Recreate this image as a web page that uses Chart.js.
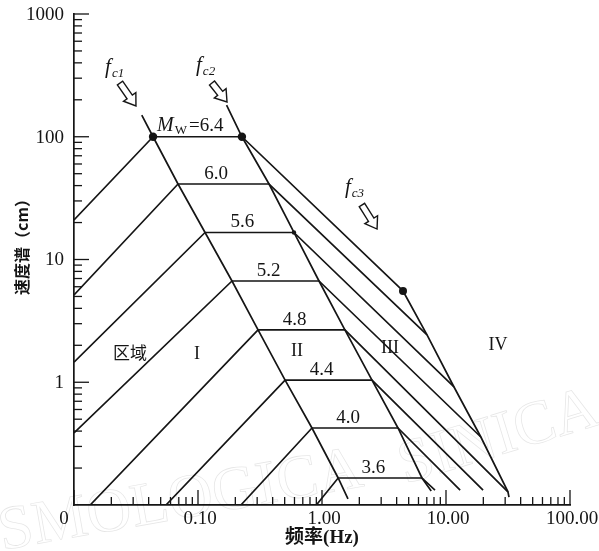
<!DOCTYPE html>
<html>
<head>
<meta charset="utf-8">
<script src="https://cdn.jsdelivr.net/npm/chart.js@4.4.1/dist/chart.umd.min.js"></script>
<style>
  html, body { margin: 0; padding: 0; background: #fff; }
  canvas { display: block; }
</style>
</head>
<body>
<canvas id="chart" width="599" height="551"></canvas>
<script>
// Velocity spectra by moment magnitude: rising branch, flat plateau between
// the first two corner frequencies, then the decaying branch.
const magnitudes = ['6.4', '6.0', '5.6', '5.2', '4.8', '4.4', '4.0', '3.6'];
const plateauVel = [100, 41.2, 16.6, 6.68, 2.67, 1.04, 0.424, 0.166];   // cm
const cornerF1   = [0.0434, 0.069, 0.114, 0.188, 0.305, 0.504, 0.83, 1.35]; // Hz
const cornerF2   = [0.226, 0.374, 0.594, 0.946, 1.53, 2.53, 4.10, 6.40];    // Hz
const startF     = [0.01, 0.01, 0.01, 0.01, 0.0135, 0.0552, 0.222, 0.9];
const startVel   = [21.0, 5.14, 1.46, 0.386, 0.1, 0.1, 0.1, 0.1];
const endF       = [4.50, 7.03, 11.6, 19.1, 31.6, 19.9, 13.0, 8.15];
const endVel     = [5.54, 2.43, 0.915, 0.358, 0.128, 0.132, 0.132, 0.132];

// outer ends of the corner-frequency boundaries
const fc1Ends = [{ x: 0.0352, y: 150 }, { x: 1.62, y: 0.112 }];
const fc2Ends = [{ x: 0.170, y: 181 }, { x: 7.6, y: 0.13 }];
const fc3End  = { x: 32.2, y: 0.116 };

// axis ticks
const xTicks = [0.01, 0.1, 1, 10, 100];
const xTickLabels = ['0', '0.10', '1.00', '10.00', '100.00'];
const yTicks = [1000, 100, 10, 1];
const yTickLabels = ['1000', '100', '10', '1'];

const ink = '#151515';
const serif = '"Liberation Serif", "DejaVu Serif", serif';
const cjk = '"Noto Sans CJK SC", sans-serif';

// text and arrow anchors, in data units
const cornerNotes = [
  { sub: 'c1', text: { f: 0.0178, v: 331 }, tail: { f: 0.0235, v: 274 }, tip: { f: 0.0316, v: 178 } },
  { sub: 'c2', text: { f: 0.0964, v: 343 }, tail: { f: 0.1297, v: 274 }, tip: { f: 0.1714, v: 192 } },
  { sub: 'c3', text: { f: 1.53,   v: 34.8 }, tail: { f: 2.10,  v: 27.8 }, tip: { f: 2.78,  v: 17.7 } }
];
const regionNotes = [
  { text: '区域', f: 0.0283, v: 1.73, font: '17px ' + cjk },
  { text: 'I',   f: 0.098,  v: 1.70, font: '18px ' + serif },
  { text: 'II',  f: 0.628,  v: 1.80, font: '18px ' + serif },
  { text: 'III', f: 3.53,   v: 1.90, font: '18px ' + serif },
  { text: 'IV',  f: 26.3,   v: 2.01, font: '18px ' + serif }
];

const lineBase = { showLine: true, borderColor: ink, borderWidth: 1.7, pointRadius: 0, tension: 0, fill: false };
const datasets = magnitudes.map((m, i) => ({
  ...lineBase,
  label: 'Mw ' + m,
  data: [
    { x: startF[i], y: startVel[i] },
    { x: cornerF1[i], y: plateauVel[i] },
    { x: cornerF2[i], y: plateauVel[i] },
    { x: endF[i], y: endVel[i] }
  ]
}));
datasets.push({ ...lineBase, label: 'fc1',
  data: [fc1Ends[0], ...cornerF1.map((f, i) => ({ x: f, y: plateauVel[i] })), fc1Ends[1]] });
datasets.push({ ...lineBase, label: 'fc2',
  data: [fc2Ends[0], ...cornerF2.map((f, i) => ({ x: f, y: plateauVel[i] })), fc2Ends[1]] });
datasets.push({ ...lineBase, label: 'fc3',
  data: [...endF.slice(0, 5).map((f, i) => ({ x: f, y: endVel[i] })), fc3End] });
datasets.push({
  label: 'corners', showLine: false,
  data: [
    { x: cornerF1[0], y: plateauVel[0] },
    { x: cornerF2[0], y: plateauVel[0] },
    { x: endF[0], y: endVel[0] },
    { x: cornerF2[2], y: plateauVel[2] }
  ],
  pointRadius: [4.2, 4.2, 4, 2.2],
  pointBackgroundColor: ink, pointBorderWidth: 0
});

function hollowArrow(ctx, x0, y0, x1, y1) {
  const dx = x1 - x0, dy = y1 - y0, L = Math.hypot(dx, dy);
  const ux = dx / L, uy = dy / L, nx = -uy, ny = ux;
  const sw = 3.2, hw = 7.5, hl = 11;
  const pts = [[0, -sw], [L - hl, -sw], [L - hl, -hw], [L, 0], [L - hl, hw], [L - hl, sw], [0, sw]];
  ctx.save();
  ctx.beginPath();
  pts.forEach(([s, t], i) => {
    const X = x0 + ux * s + nx * t, Y = y0 + uy * s + ny * t;
    i ? ctx.lineTo(X, Y) : ctx.moveTo(X, Y);
  });
  ctx.closePath();
  ctx.fillStyle = '#fff';
  ctx.fill();
  ctx.lineWidth = 1.4;
  ctx.strokeStyle = ink;
  ctx.stroke();
  ctx.restore();
}

// faint journal stamp behind the curves
const stampPlugin = {
  id: 'stamp',
  beforeDatasetsDraw(chart) {
    const ctx = chart.ctx;
    ctx.save();
    ctx.font = '62px ' + serif;
    ctx.strokeStyle = 'rgba(0,0,0,0.10)';
    ctx.lineWidth = 0.8;
    ctx.translate(2, 550); ctx.rotate(-10 * Math.PI / 180);
    ctx.strokeText('SMOLOGICA', 0, 0);
    ctx.setTransform(1, 0, 0, 1, 0, 0);
    ctx.translate(405, 484); ctx.rotate(-17 * Math.PI / 180);
    ctx.strokeText('SINICA', 0, 0);
    ctx.restore();
  }
};

// inward tick marks, tick labels, axis titles and annotations
const marksPlugin = {
  id: 'marks',
  afterDraw(chart) {
    const { ctx, chartArea: a, scales: { x, y } } = chart;
    const px = v => x.getPixelForValue(v), py = v => y.getPixelForValue(v);
    ctx.save();
    ctx.strokeStyle = ink;
    ctx.lineWidth = 1.3;
    const seg = (x0, y0, x1, y1) => { ctx.beginPath(); ctx.moveTo(x0, y0); ctx.lineTo(x1, y1); ctx.stroke(); };

    for (let e = -2; e < 2; e++) for (let k = 2; k <= 9; k++) {
      const X = px(k * Math.pow(10, e)); seg(X, a.bottom, X, a.bottom - 8);
    }
    x.ticks.forEach(t => { const X = px(t.value); seg(X, a.bottom, X, a.bottom - 15); });
    for (let e = -1; e < 3; e++) for (let k = 2; k <= 9; k++) {
      const Y = py(k * Math.pow(10, e)); seg(a.left, Y, a.left + 8, Y);
    }
    y.ticks.forEach(t => { const Y = py(t.value); seg(a.left, Y, a.left + 15, Y); });

    ctx.fillStyle = ink;
    ctx.font = '19px ' + serif;
    ctx.textBaseline = 'middle';
    ctx.textAlign = 'center';
    x.ticks.forEach((t, i) => {
      const X = px(t.value) + (i === 0 ? -10 : 2);
      ctx.fillText(xTickLabels[i], X, a.bottom + 14);
    });
    ctx.textAlign = 'right';
    y.ticks.forEach((t, i) => ctx.fillText(yTickLabels[i], a.left - 10, py(t.value) + 1));

    // axis titles
    ctx.font = 'bold 19px ' + serif + ', ' + cjk;
    ctx.textAlign = 'center';
    ctx.fillText('频率(Hz)', (a.left + a.right) / 2, a.bottom + 33);
    ctx.save();
    ctx.translate(22, a.top + 229);
    ctx.rotate(-Math.PI / 2);
    ctx.font = 'bold 16px ' + cjk;
    ctx.fillText('速度谱（cm）', 0, 0);
    ctx.restore();

    // magnitude labels on the plateaus
    ctx.textBaseline = 'alphabetic';
    magnitudes.forEach((m, i) => {
      const x1 = px(cornerF1[i]), x2 = px(cornerF2[i]), Y = py(plateauVel[i]);
      if (i === 0) {
        let X = x1 + 4;
        ctx.textAlign = 'left';
        ctx.font = 'italic 20px ' + serif;
        ctx.fillText('M', X, Y - 6); X += ctx.measureText('M').width + 1;
        ctx.font = '13px ' + serif;
        ctx.fillText('W', X, Y - 3); X += ctx.measureText('W').width + 2;
        ctx.font = '19px ' + serif;
        ctx.fillText('=' + m, X, Y - 6);
      } else {
        ctx.textAlign = 'center';
        ctx.font = '19px ' + serif;
        ctx.fillText(m, x1 + 0.42 * (x2 - x1), Y - 5);
      }
    });

    // corner-frequency captions and arrows
    cornerNotes.forEach(n => {
      let X = px(n.text.f); const Y = py(n.text.v);
      ctx.fillStyle = ink;
      ctx.textAlign = 'left';
      ctx.font = 'italic 21px ' + serif;
      ctx.fillText('f', X, Y); X += ctx.measureText('f').width + 1;
      ctx.font = 'italic 13px ' + serif;
      ctx.fillText(n.sub, X, Y + 4);
      hollowArrow(ctx, px(n.tail.f), py(n.tail.v), px(n.tip.f), py(n.tip.v));
    });

    // region names
    ctx.fillStyle = ink;
    ctx.textAlign = 'center';
    ctx.textBaseline = 'middle';
    regionNotes.forEach(n => { ctx.font = n.font; ctx.fillText(n.text, px(n.f), py(n.v)); });
    ctx.restore();
  }
};

const axisCommon = {
  type: 'logarithmic',
  grid: { display: false, drawTicks: false },
  border: { display: true, color: ink, width: 1.7 },
  ticks: { display: false }
};

new Chart(document.getElementById('chart'), {
  type: 'scatter',
  data: { datasets },
  options: {
    responsive: false,
    animation: false,
    layout: { padding: { left: 74, right: 29, top: 14, bottom: 46 } },
    plugins: { legend: { display: false }, tooltip: { enabled: false } },
    scales: {
      x: { ...axisCommon, position: 'bottom', min: 0.01, max: 100,
           afterBuildTicks: s => { s.ticks = xTicks.map(v => ({ value: v })); } },
      y: { ...axisCommon, position: 'left', min: 0.1, max: 1000,
           afterBuildTicks: s => { s.ticks = yTicks.map(v => ({ value: v })); } }
    }
  },
  plugins: [stampPlugin, marksPlugin]
});
</script>
</body>
</html>
